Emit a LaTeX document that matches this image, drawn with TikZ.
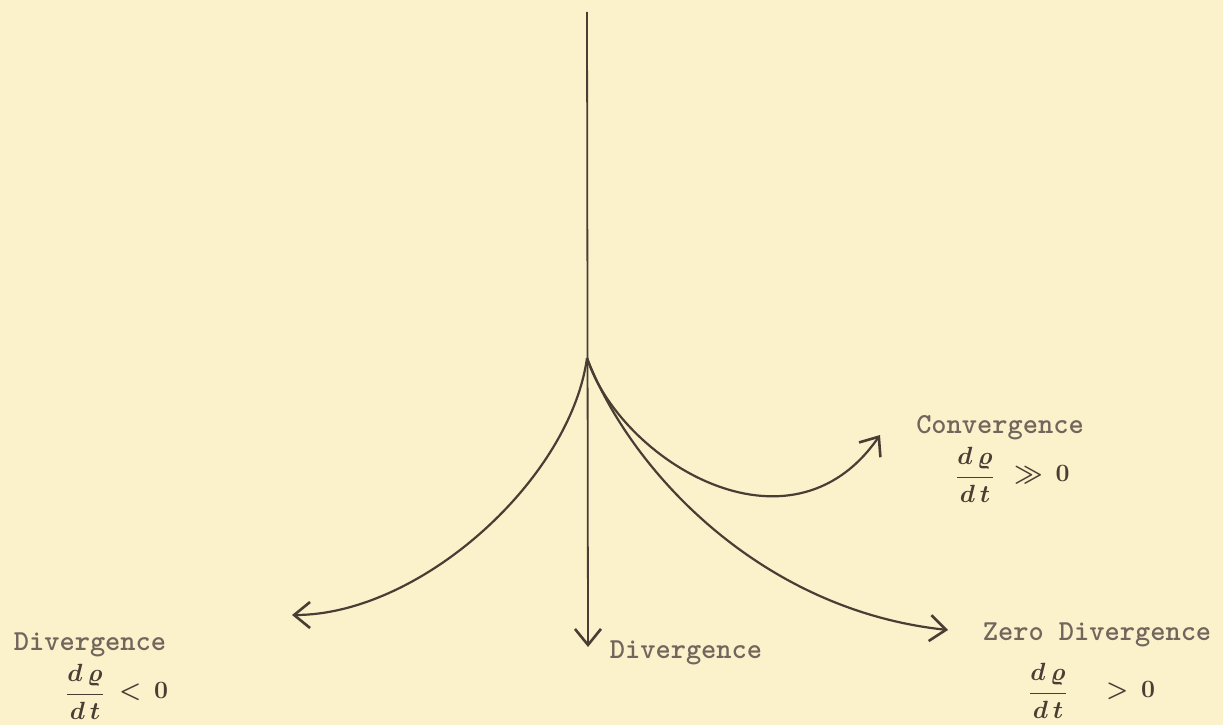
\documentclass[tikz,border=0pt]{standalone}
\usepackage{fontspec}
\usetikzlibrary{arrows.meta}
\definecolor{paper}{RGB}{251,241,203}
\definecolor{ink}{RGB}{72,62,52}
\definecolor{type}{RGB}{112,102,92}
\tikzset{
  curve/.style={draw=ink, line width=2.2pt, -{Straight Barb[length=16pt,width=26pt,line width=2.6pt]}},
  typed/.style={font=\ttfamily\bfseries\fontsize{29}{34}\selectfont, text=type, inner sep=0pt, anchor=base},
  hand/.style={font=\fontsize{30}{36}\selectfont\boldmath, text=ink, inner sep=0pt},
}
\begin{document}
\begin{tikzpicture}[x=1pt,y=-1pt]
\fill[paper] (0,0) rectangle (1223,725);
\useasboundingbox (0,0) rectangle (1223,725);
\coordinate (top) at (587,12);
\coordinate (apex) at (587,358);
\coordinate (down) at (588,647);
\coordinate (lefttip) at (292,615);
\coordinate (righttip) at (948,630);
\coordinate (convtip) at (880,435);
\draw[curve, line width=1.8pt] (top) -- (down);
\draw[curve] (apex) .. controls (570,480) and (420,615) .. (lefttip);
\draw[curve] (apex) .. controls (630,470) and (760,610) .. (righttip);
\draw[curve] (apex) .. controls (620,460) and (790,565) .. (convtip);
\node[typed] (tconv) at (1000,433) {Convergence};
\node[typed] (tleft) at (90,650) {Divergence};
\node[typed] (tmid) at (686,658) {Divergence};
\node[typed] (tzero) at (1097,640) {Zero Divergence};
\node[hand] (fconv) at (975,475) {$\displaystyle\frac{d\,\varrho}{d\,t}$};
\node[hand, anchor=west] (rconv) at (1014,475) {$\gg\,0$};
\node[hand] (fzero) at (1048,691) {$\displaystyle\frac{d\,\varrho}{d\,t}$};
\node[hand, anchor=west] (rzero) at (1106,691) {$>\,0$};
\node[hand] (fleft) at (85,692) {$\displaystyle\frac{d\,\varrho}{d\,t}$};
\node[hand, anchor=west] (rleft) at (119,692) {$<\,0$};
\end{tikzpicture}
\end{document}
